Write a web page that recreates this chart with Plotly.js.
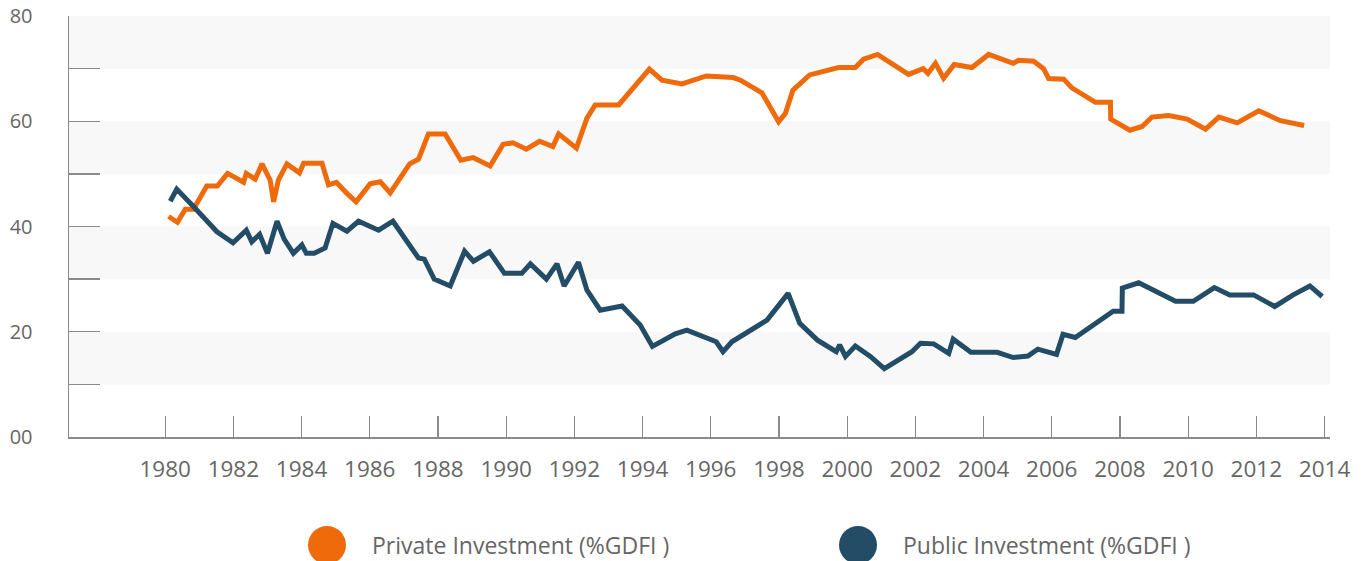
<!DOCTYPE html>
<html>
<head>
<meta charset="utf-8">
<script src="https://cdn.plot.ly/plotly-3.0.1.min.js"></script>
<style>
html,body{margin:0;padding:0;background:#fff;}
#chart{width:1366px;height:561px;}
</style>
</head>
<body>
<div id="chart"></div>
<script>
// Private investment (%GDFI)
const privateYears = [1980.10,1980.36,1980.59,1980.83,1981.22,1981.53,1981.83,1982.30,1982.38,1982.64,1982.84,1983.08,1983.18,1983.32,1983.57,1983.94,1984.06,1984.60,1984.79,1985.02,1985.33,1985.60,1986.01,1986.31,1986.60,1987.17,1987.43,1987.72,1988.21,1988.67,1989.03,1989.53,1989.91,1990.20,1990.59,1990.98,1991.37,1991.54,1992.06,1992.37,1992.61,1993.30,1994.20,1994.57,1995.16,1995.87,1996.66,1996.87,1997.50,1997.99,1998.19,1998.41,1998.90,1999.75,2000.24,2000.48,2000.89,2001.80,2002.23,2002.37,2002.59,2002.83,2003.14,2003.66,2004.15,2004.87,2005.03,2005.47,2005.76,2005.91,2006.35,2006.60,2007.28,2007.72,2007.73,2008.29,2008.65,2008.94,2009.43,2009.97,2010.51,2010.90,2011.44,2012.07,2012.71,2013.40];
const privateValues = [41.9,40.8,43.3,43.3,47.7,47.7,50.1,48.4,50.1,49.0,51.9,48.8,44.7,48.8,51.9,50.2,52.0,52.0,47.9,48.4,46.3,44.7,48.1,48.5,46.4,51.9,52.8,57.6,57.6,52.6,53.1,51.5,55.6,55.9,54.7,56.2,55.2,57.6,54.9,60.6,63.1,63.1,69.9,67.8,67.1,68.6,68.3,67.8,65.4,59.9,61.5,65.9,68.8,70.2,70.2,71.8,72.7,68.9,70.0,69.1,71.0,68.2,70.8,70.2,72.7,71.0,71.6,71.4,70.0,68.1,68.0,66.3,63.6,63.6,60.4,58.3,59.0,60.8,61.1,60.4,58.5,60.8,59.7,62.0,60.1,59.2];

// Public investment (%GDFI)
const publicYears = [1980.15,1980.34,1980.83,1981.52,1981.99,1982.38,1982.54,1982.77,1983.00,1983.28,1983.49,1983.76,1984.01,1984.14,1984.37,1984.69,1984.92,1985.33,1985.67,1986.26,1986.68,1987.43,1987.60,1987.89,1988.36,1988.78,1989.04,1989.51,1989.95,1990.46,1990.71,1991.18,1991.49,1991.70,1992.12,1992.37,1992.76,1993.40,1993.93,1994.29,1994.96,1995.30,1996.16,1996.36,1996.62,1997.65,1998.27,1998.61,1999.13,1999.68,1999.78,1999.95,2000.24,2000.68,2001.09,2001.90,2002.15,2002.54,2002.98,2003.11,2003.63,2004.40,2004.87,2005.30,2005.59,2006.14,2006.33,2006.69,2007.80,2008.06,2008.07,2008.55,2009.63,2010.15,2010.77,2011.22,2011.92,2012.54,2013.08,2013.57,2013.93];
const publicValues = [44.8,47.1,43.8,39.0,36.9,39.3,37.1,38.5,34.9,41.0,37.6,34.9,36.5,34.9,34.9,35.9,40.6,39.1,41.0,39.3,41.0,34.0,33.8,30.0,28.7,35.3,33.4,35.2,31.1,31.1,32.9,30.0,32.9,28.7,33.2,27.9,24.1,24.9,21.3,17.2,19.6,20.3,18.1,16.2,18.1,22.2,27.3,21.6,18.4,16.2,17.5,15.3,17.3,15.3,13.0,16.2,17.8,17.7,15.9,18.6,16.1,16.1,15.1,15.4,16.7,15.7,19.5,18.9,23.9,23.9,28.3,29.3,25.8,25.8,28.4,27.0,27.0,24.8,27.0,28.7,26.7];

const seriesNames = ["Private Investment (%GDFI )", "Public Investment (%GDFI )"];
const xTickVals = [1980,1982,1984,1986,1988,1990,1992,1994,1996,1998,2000,2002,2004,2006,2008,2010,2012,2014];
const xTickText = ["1980","1982","1984","1986","1988","1990","1992","1994","1996","1998","2000","2002","2004","2006","2008","2010","2012","2014"];
const yTickVals = [0,10,20,30,40,50,60,70,80];
const yTickText = ["00","","20","","40","","60","","80"];
const bandRanges = [[10,20],[30,40],[50,60],[70,80]];

const ORANGE = "#ee6a0b";
const BLUE = "#234d66";
const GREY = "#666666";
const AXIS = "#8a8a8a";
const FONT = "'Open Sans', Lato, sans-serif";

const traces = [
  {x: privateYears, y: privateValues, name: seriesNames[0], type: "scatter", mode: "lines",
   line: {color: ORANGE, width: 5, shape: "linear"}, showlegend: false, hoverinfo: "x+y"},
  {x: publicYears, y: publicValues, name: seriesNames[1], type: "scatter", mode: "lines",
   line: {color: BLUE, width: 5, shape: "linear"}, showlegend: false, hoverinfo: "x+y"}
];

const shapes = bandRanges.map(r => ({
  type: "rect", xref: "paper", yref: "y", x0: 0, x1: 1, y0: r[0], y1: r[1],
  fillcolor: "#f8f8f8", line: {width: 0}, layer: "below"
}));

const legendColors = [ORANGE, BLUE];
const legendX = [0.2046, 0.6257];
const legendTextX = [0.2387, 0.6598];
const legendY = -0.2565;
legendColors.forEach((c, i) => {
  shapes.push({
    type: "circle", xref: "paper", yref: "paper", xsizemode: "pixel", ysizemode: "pixel",
    xanchor: legendX[i], yanchor: legendY, x0: -19, x1: 19, y0: -19, y1: 19,
    fillcolor: c, line: {width: 0}
  });
});

const annotations = seriesNames.map((n, i) => ({
  text: n, xref: "paper", yref: "paper", x: legendTextX[i], y: legendY,
  xanchor: "left", yanchor: "middle", showarrow: false,
  font: {family: FONT, size: 23, color: GREY}
}));

const layout = {
  width: 1366, height: 561,
  margin: {l: 69, r: 36, t: 16, b: 124, pad: 0},
  paper_bgcolor: "#ffffff", plot_bgcolor: "#ffffff",
  showlegend: false,
  font: {family: FONT, color: GREY},
  xaxis: {
    range: [1977.18, 2014.16], tickvals: xTickVals, ticktext: xTickText,
    ticks: "inside", ticklen: 21, tickwidth: 1.3, tickcolor: AXIS,
    showline: true, linecolor: AXIS, linewidth: 1.5, showgrid: false, zeroline: false,
    ticklabelstandoff: 11, tickfont: {family: FONT, size: 22.5, color: GREY}
  },
  yaxis: {
    range: [0, 80], tickvals: yTickVals, ticktext: yTickText,
    ticks: "inside", ticklen: 31, tickwidth: 1.3, tickcolor: AXIS,
    showline: true, linecolor: AXIS, linewidth: 1.5, showgrid: false, zeroline: false,
    ticklabelstandoff: 31, tickfont: {family: FONT, size: 20, color: GREY}
  },
  shapes: shapes,
  annotations: annotations
};

Plotly.newPlot("chart", traces, layout, {displayModeBar: false, staticPlot: true});
</script>
</body>
</html>
